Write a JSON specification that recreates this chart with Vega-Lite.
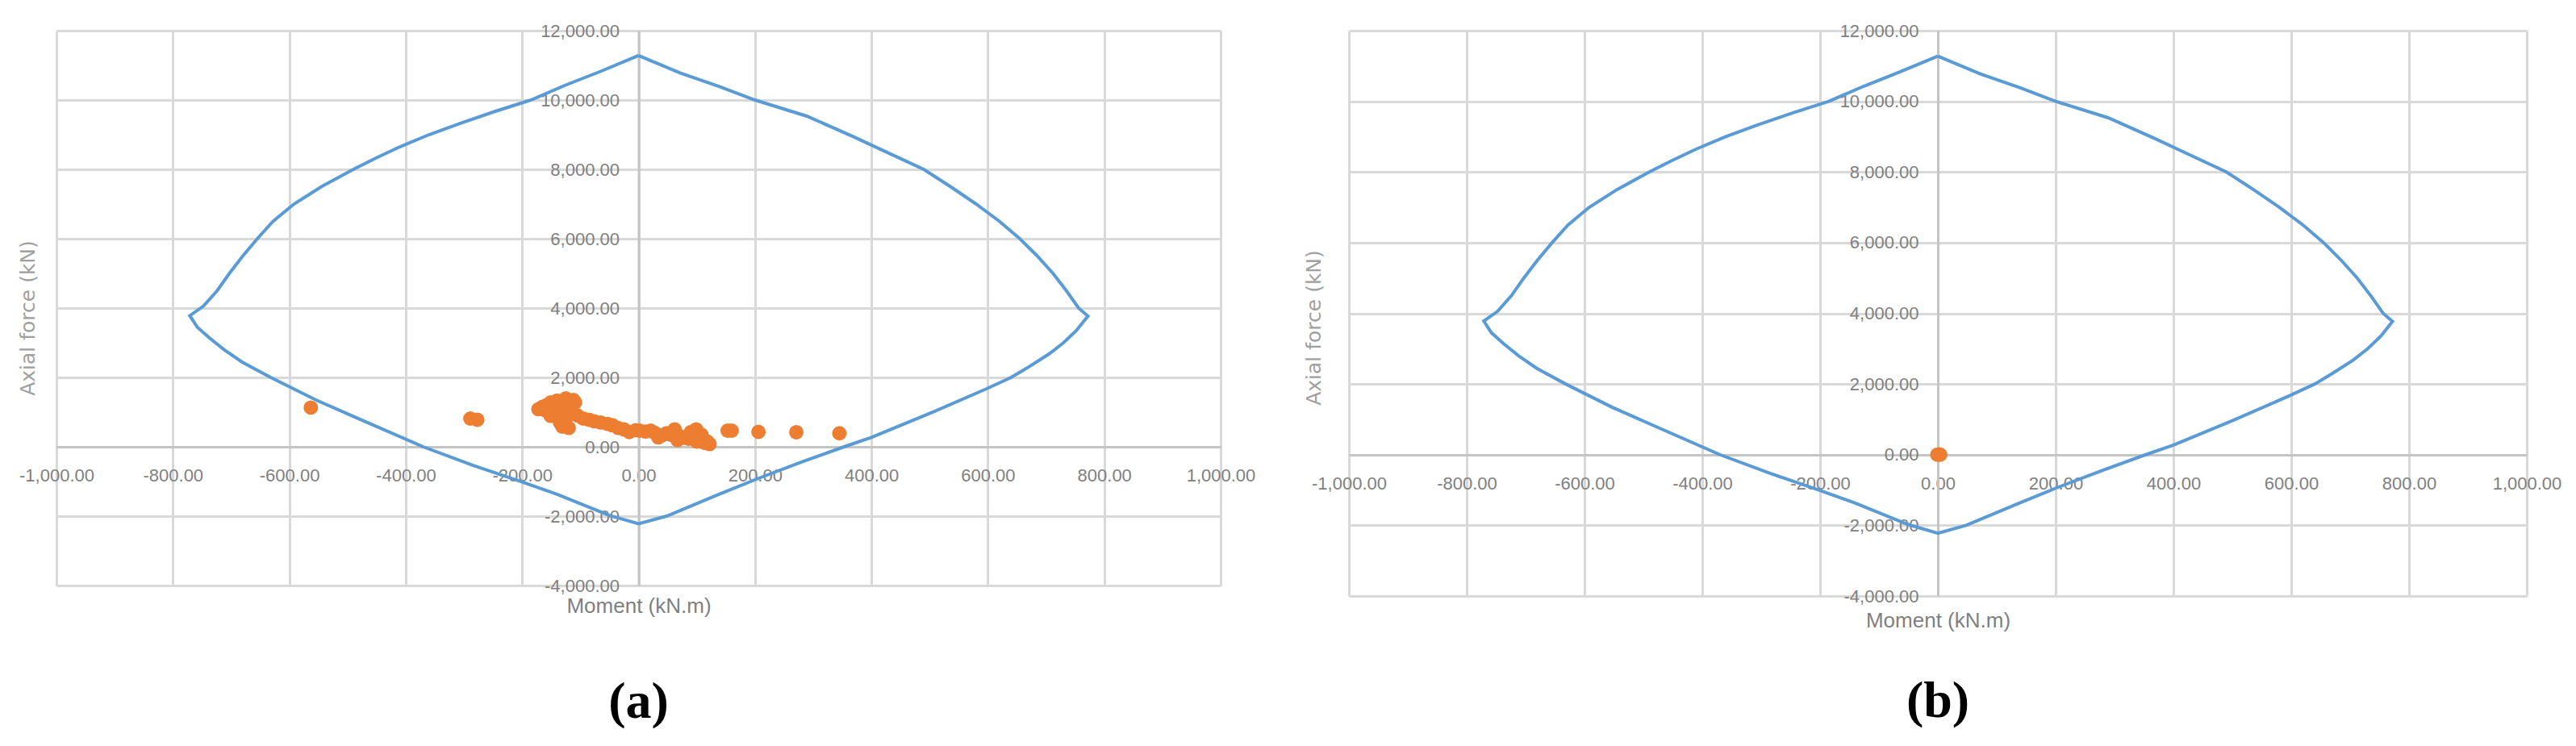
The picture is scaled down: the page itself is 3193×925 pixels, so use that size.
{
  "$schema": "https://vega.github.io/schema/vega-lite/v6.json",
  "background": "white",
  "padding": {"left": 22, "top": 27, "right": 0, "bottom": 0},
  "autosize": {"type": "pad"},
  "spacing": 159,
  "bounds": "flush",
  "config": {
    "view": {"stroke": null},
    "locale": {"number": {"decimal": ".", "thousands": ",", "grouping": [3], "currency": ["$", ""], "minus": "-"}},
    "axis": {
      "grid": true, "gridColor": "#d9d9d9", "gridWidth": 3,
      "domain": true, "domainColor": "#c4c4c4", "domainWidth": 3,
      "ticks": false, "tickSize": 0,
      "labelFont": "Liberation Sans", "labelFontSize": 22, "labelColor": "#808080",
      "labelOverlap": false, "labelFlush": false,
      "titleFontWeight": "normal"
    }
  },
  "datasets": {
    "curve": [
      {"i": 1, "M": 0, "N": 11280}, {"i": 2, "M": -67, "N": 10814}, {"i": 3, "M": -127, "N": 10419},
      {"i": 4, "M": -185, "N": 10000}, {"i": 5, "M": -245, "N": 9680}, {"i": 6, "M": -306, "N": 9330},
      {"i": 7, "M": -360, "N": 9000}, {"i": 8, "M": -410, "N": 8650}, {"i": 9, "M": -452, "N": 8320},
      {"i": 10, "M": -490, "N": 8000}, {"i": 11, "M": -545, "N": 7500}, {"i": 12, "M": -592, "N": 7000},
      {"i": 13, "M": -628, "N": 6500}, {"i": 14, "M": -655, "N": 6000}, {"i": 15, "M": -680, "N": 5500},
      {"i": 16, "M": -703, "N": 5000}, {"i": 17, "M": -724, "N": 4500}, {"i": 18, "M": -748, "N": 4050},
      {"i": 19, "M": -771, "N": 3780}, {"i": 20, "M": -758, "N": 3450}, {"i": 21, "M": -738, "N": 3150},
      {"i": 22, "M": -712, "N": 2800}, {"i": 23, "M": -681, "N": 2442}, {"i": 24, "M": -632, "N": 2000},
      {"i": 25, "M": -554, "N": 1349}, {"i": 26, "M": -470, "N": 730}, {"i": 27, "M": -370, "N": 0},
      {"i": 28, "M": -285, "N": -530}, {"i": 29, "M": -204, "N": -990}, {"i": 30, "M": -140, "N": -1370},
      {"i": 31, "M": -50, "N": -1980}, {"i": 32, "M": 0, "N": -2222}, {"i": 33, "M": 48, "N": -2000},
      {"i": 34, "M": 134, "N": -1400}, {"i": 35, "M": 203, "N": -930}, {"i": 36, "M": 280, "N": -440},
      {"i": 37, "M": 353, "N": 0}, {"i": 38, "M": 400, "N": 270}, {"i": 39, "M": 500, "N": 960},
      {"i": 40, "M": 598, "N": 1674}, {"i": 41, "M": 640, "N": 2000}, {"i": 42, "M": 670, "N": 2300},
      {"i": 43, "M": 705, "N": 2674}, {"i": 44, "M": 730, "N": 3000}, {"i": 45, "M": 752, "N": 3350},
      {"i": 46, "M": 772, "N": 3770}, {"i": 47, "M": 756, "N": 4000}, {"i": 48, "M": 735, "N": 4500},
      {"i": 49, "M": 712, "N": 5000}, {"i": 50, "M": 685, "N": 5500}, {"i": 51, "M": 655, "N": 6000},
      {"i": 52, "M": 620, "N": 6500}, {"i": 53, "M": 580, "N": 7000}, {"i": 54, "M": 536, "N": 7500},
      {"i": 55, "M": 490, "N": 8000}, {"i": 56, "M": 432, "N": 8450}, {"i": 57, "M": 368, "N": 8950},
      {"i": 58, "M": 289, "N": 9535}, {"i": 59, "M": 200, "N": 10000}, {"i": 60, "M": 140, "N": 10380},
      {"i": 61, "M": 72, "N": 10775}, {"i": 62, "M": 0, "N": 11280}
    ],
    "loadsA": [
      {"M": -563, "N": 1130}, {"M": -289, "N": 814}, {"M": -277, "N": 780},
      {"M": 153, "N": 465}, {"M": 160, "N": 465}, {"M": 206, "N": 430}, {"M": 271, "N": 420}, {"M": 345, "N": 390},
      {"M": -172, "N": 1085}, {"M": -165, "N": 1150}, {"M": -158, "N": 1200}, {"M": -151, "N": 1279},
      {"M": -145, "N": 1150}, {"M": -140, "N": 1330}, {"M": -132, "N": 1250}, {"M": -125, "N": 1395},
      {"M": -118, "N": 1300}, {"M": -112, "N": 1350}, {"M": -109, "N": 1279}, {"M": -115, "N": 1180},
      {"M": -150, "N": 1000}, {"M": -140, "N": 950}, {"M": -151, "N": 892}, {"M": -131, "N": 581},
      {"M": -120, "N": 543}, {"M": -135, "N": 700}, {"M": -125, "N": 800}, {"M": -115, "N": 1000},
      {"M": -105, "N": 900}, {"M": -160, "N": 1050}, {"M": -130, "N": 1100}, {"M": -120, "N": 1150},
      {"M": -95, "N": 814}, {"M": -85, "N": 780}, {"M": -76, "N": 736}, {"M": -65, "N": 700},
      {"M": -53, "N": 659}, {"M": -45, "N": 620}, {"M": -35, "N": 543}, {"M": -25, "N": 500},
      {"M": -16, "N": 426}, {"M": -5, "N": 480}, {"M": 2, "N": 465}, {"M": 12, "N": 440},
      {"M": 21, "N": 465}, {"M": 28, "N": 400}, {"M": 34, "N": 271}, {"M": 40, "N": 330},
      {"M": 48, "N": 388}, {"M": 55, "N": 350}, {"M": 62, "N": 504}, {"M": 67, "N": 194},
      {"M": 72, "N": 300}, {"M": 80, "N": 260}, {"M": 86, "N": 233}, {"M": 90, "N": 426},
      {"M": 95, "N": 350}, {"M": 99, "N": 504}, {"M": 104, "N": 194}, {"M": 108, "N": 349},
      {"M": 113, "N": 116}, {"M": 118, "N": 150}, {"M": 122, "N": 78}, {"M": 110, "N": 250}, {"M": 100, "N": 150}
    ],
    "loadsB": [
      {"M": -1, "N": 0}, {"M": 4, "N": 0}, {"M": 2, "N": 8}
    ]
  },
  "hconcat": [
    {
      "width": 1443,
      "height": 688,
      "title": {"text": "(a)", "orient": "bottom", "frame": "group", "anchor": "middle", "baseline": "alphabetic", "offset": 126, "font": "Liberation Serif", "fontSize": 64, "fontWeight": "bold", "color": "#000000"},
      "layer": [
        {
          "data": {"name": "curve"},
          "mark": {"type": "line", "color": "#5b9bd5", "strokeWidth": 4},
          "encoding": {
            "x": {"field": "M", "type": "quantitative",
              "scale": {"domain": [-1000, 1000], "nice": false, "zero": false},
              "axis": {"values": [-1000, -800, -600, -400, -200, 0, 200, 400, 600, 800, 1000], "format": ",.2f",
                "offset": -172, "labelPadding": 25,
                "title": "Moment (kN.m)", "titleFont": "Liberation Sans", "titleFontSize": 26, "titleColor": "#7f7f7f",
                "titleX": 721.5, "titleY": 205, "titleAlign": "center", "titleBaseline": "alphabetic", "titleAnchor": null}},
            "y": {"field": "N", "type": "quantitative",
              "scale": {"domain": [-4000, 12000], "nice": false, "zero": false},
              "axis": {"values": [-4000, -2000, 0, 2000, 4000, 6000, 8000, 10000, 12000], "format": ",.2f",
                "offset": -721.5, "labelPadding": 24,
                "title": "Axial force (kN)", "titleFont": "DejaVu Sans", "titleFontSize": 25, "titleColor": "#a0a0a0",
                "titleX": -749.5, "titleY": 356, "titleAngle": -90, "titleAlign": "center", "titleBaseline": "alphabetic", "titleAnchor": null}},
            "order": {"field": "i", "type": "quantitative"}
          }
        },
        {
          "data": {"name": "loadsA"},
          "mark": {"type": "circle", "color": "#ed7d31", "opacity": 1, "size": 320},
          "encoding": {
            "x": {"field": "M", "type": "quantitative"},
            "y": {"field": "N", "type": "quantitative"}
          }
        }
      ]
    },
    {
      "width": 1460,
      "height": 701,
      "title": {"text": "(b)", "orient": "bottom", "frame": "group", "anchor": "middle", "baseline": "alphabetic", "offset": 107, "font": "Liberation Serif", "fontSize": 64, "fontWeight": "bold", "color": "#000000"},
      "layer": [
        {
          "data": {"name": "curve"},
          "mark": {"type": "line", "color": "#5b9bd5", "strokeWidth": 4},
          "encoding": {
            "x": {"field": "M", "type": "quantitative",
              "scale": {"domain": [-1000, 1000], "nice": false, "zero": false},
              "axis": {"values": [-1000, -800, -600, -400, -200, 0, 200, 400, 600, 800, 1000], "format": ",.2f",
                "offset": -175, "labelPadding": 25,
                "title": "Moment (kN.m)", "titleFont": "Liberation Sans", "titleFontSize": 26, "titleColor": "#7f7f7f",
                "titleX": 730, "titleY": 213, "titleAlign": "center", "titleBaseline": "alphabetic", "titleAnchor": null}},
            "y": {"field": "N", "type": "quantitative",
              "scale": {"domain": [-4000, 12000], "nice": false, "zero": false},
              "axis": {"values": [-4000, -2000, 0, 2000, 4000, 6000, 8000, 10000, 12000], "format": ",.2f",
                "offset": -730, "labelPadding": 24,
                "title": "Axial force (kN)", "titleFont": "DejaVu Sans", "titleFontSize": 25, "titleColor": "#a0a0a0",
                "titleX": -766, "titleY": 368, "titleAngle": -90, "titleAlign": "center", "titleBaseline": "alphabetic", "titleAnchor": null}},
            "order": {"field": "i", "type": "quantitative"}
          }
        },
        {
          "data": {"name": "loadsB"},
          "mark": {"type": "circle", "color": "#ed7d31", "opacity": 1, "size": 320},
          "encoding": {
            "x": {"field": "M", "type": "quantitative"},
            "y": {"field": "N", "type": "quantitative"}
          }
        }
      ]
    }
  ]
}
